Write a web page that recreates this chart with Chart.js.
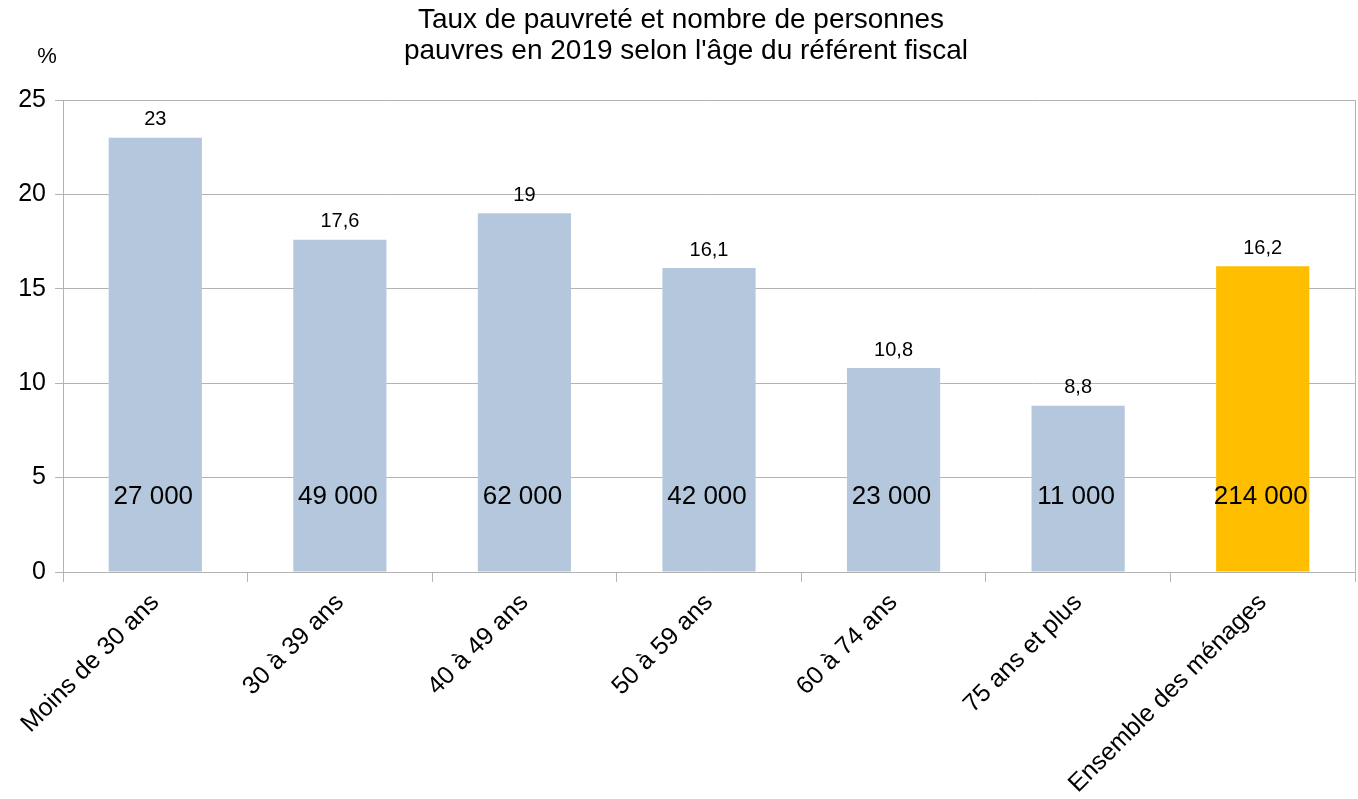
<!DOCTYPE html>
<html>
<head>
<meta charset="utf-8">
<script src="https://cdn.jsdelivr.net/npm/chart.js@4"></script>
<style>
  html, body { margin: 0; padding: 0; background: #fff; }
  #wrap { width: 1358px; height: 799px; }
</style>
</head>
<body>
<div id="wrap"><canvas id="c" width="1358" height="799"></canvas></div>
<script>
'use strict';

const CATEGORIES = ['Moins de 30 ans', '30 à 39 ans', '40 à 49 ans', '50 à 59 ans',
  '60 à 74 ans', '75 ans et plus', 'Ensemble des ménages'];
const RATES = [23, 17.6, 19, 16.1, 10.8, 8.8, 16.2];             // taux de pauvreté (%)
const POOR_COUNTS = ['27 000', '49 000', '62 000', '42 000', '23 000', '11 000', '214 000'];
const TITLE_LINES = ['Taux de pauvreté et nombre de personnes',
  "pauvres en 2019 selon l'âge du référent fiscal"];

const FONT = '"Liberation Sans", Arial, sans-serif';
const BLUE = '#b4c7dc';
const ORANGE = '#ffbf00';
const GRID = '#b3b3b3';

// ---------------------------------------------------------------------------
// Labels: rate above bar, count inside bar, title and unit
// ---------------------------------------------------------------------------
const labelsPlugin = {
  id: 'labels',
  afterDatasetsDraw(chart) {
    const ctx = chart.ctx;
    const meta = chart.getDatasetMeta(0);
    const y = chart.scales.y;
    ctx.save();
    ctx.fillStyle = '#000';
    ctx.textAlign = 'center';
    ctx.textBaseline = 'middle';
    meta.data.forEach((bar, i) => {
      ctx.font = '20px ' + FONT;
      ctx.fillText(String(RATES[i]).replace('.', ','), bar.x, bar.y - 18);
      ctx.font = '26px ' + FONT;
      ctx.fillText(POOR_COUNTS[i], bar.x - 2, y.getPixelForValue(4.0));
    });
    ctx.restore();
  },
  afterDraw(chart) {
    const ctx = chart.ctx;
    const area = chart.chartArea;
    ctx.save();
    // right border of the plot
    ctx.strokeStyle = GRID;
    ctx.lineWidth = 1;
    ctx.beginPath();
    ctx.moveTo(area.right + 0.5, area.top);
    ctx.lineTo(area.right + 0.5, area.bottom);
    ctx.stroke();

    ctx.fillStyle = '#000';
    ctx.textAlign = 'center';
    ctx.textBaseline = 'middle';
    ctx.font = '28px ' + FONT;
    ctx.fillText(TITLE_LINES[0], 681, 20);
    ctx.fillText(TITLE_LINES[1], 686, 51);
    ctx.font = '22px ' + FONT;
    ctx.fillText('%', 47, 57);
    ctx.restore();
  }
};

new Chart(document.getElementById('c'), {
  type: 'bar',
  data: {
    labels: CATEGORIES,
    datasets: [{
      data: RATES,
      backgroundColor: RATES.map((_, i) => i === RATES.length - 1 ? ORANGE : BLUE),
      barPercentage: 0.505,
      categoryPercentage: 1.0,
    }],
  },
  options: {
    responsive: false,
    animation: false,
    layout: { padding: { top: 100, right: 3, left: 0, bottom: 0 } },
    plugins: {
      legend: { display: false },
      title: { display: false },
      tooltip: { enabled: false },
    },
    scales: {
      x: {
        offset: true,
        grid: { display: true, drawOnChartArea: false, drawTicks: true, tickLength: 10, color: GRID, offset: true },
        border: { color: GRID },
        ticks: {
          color: '#000',
          font: { family: FONT, size: 25 },
          minRotation: 45,
          maxRotation: 45,
          padding: 6,
        },
        afterFit(scale) { scale.height = 227; },
      },
      y: {
        min: 0,
        max: 25,
        ticks: { stepSize: 5, color: '#000', font: { family: FONT, size: 25 }, padding: 9 },
        grid: { color: GRID, tickLength: 8 },
        border: { color: GRID },
        afterFit(scale) { scale.width = 63; },
      },
    },
  },
  plugins: [labelsPlugin],
});
</script>
</body>
</html>
